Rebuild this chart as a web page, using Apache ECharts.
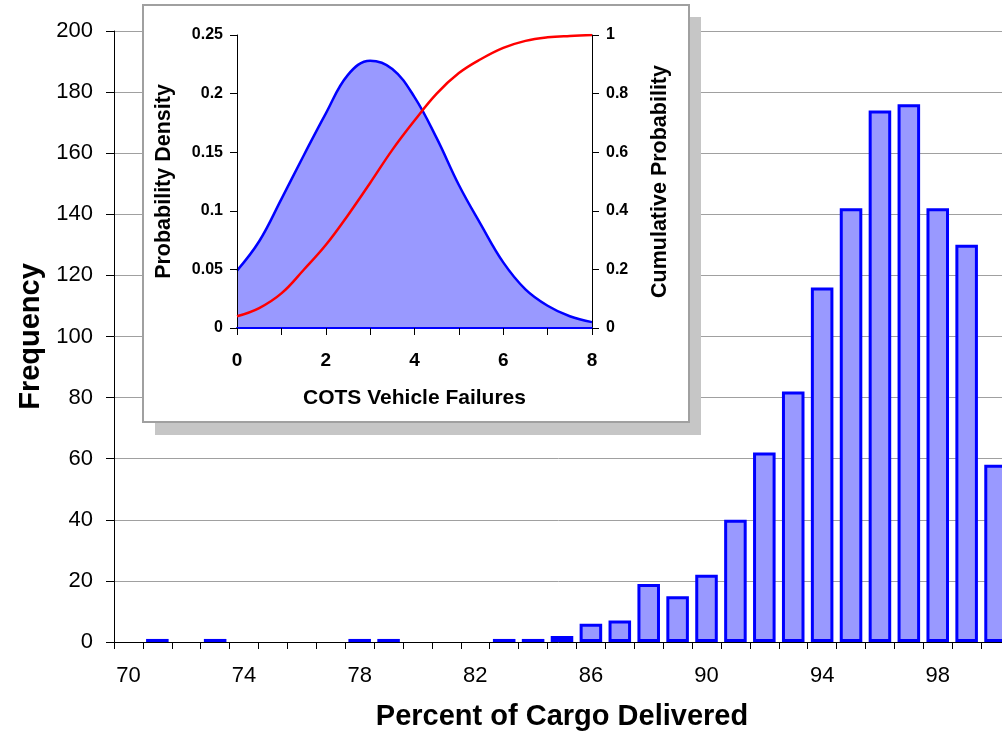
<!DOCTYPE html>
<html><head><meta charset="utf-8">
<script src="https://cdn.jsdelivr.net/npm/echarts@6/dist/echarts.min.js"></script>
<style>html,body{margin:0;padding:0;background:#fff;overflow:hidden}#c{width:1002px;height:740px}</style>
</head><body><div id="c"></div>
<script>
// Main histogram
const cargoPercent = [70,71,72,73,74,75,76,77,78,79,80,81,82,83,84,85,86,87,88,89,90,91,92,93,94,95,96,97,98,99,100];
const frequency = [0,1,0,1,0,0,0,0,1,1,0,0,0,1,1,2,6,7,19,15,22,40,62,82,116,142,174,176,142,130,58];
// Inset: COTS vehicle failures
const failures = [0,0.5,1,1.5,2,2.5,3,3.5,4,4.5,5,5.5,6,6.5,7,7.5,8];
const density = [0.049,0.074,0.110,0.147,0.183,0.216,0.228,0.221,0.197,0.162,0.122,0.088,0.056,0.033,0.019,0.010,0.005];
const cumulative = [0.040,0.068,0.118,0.198,0.283,0.385,0.495,0.608,0.708,0.800,0.870,0.918,0.956,0.980,0.992,0.997,1.0];

const FONT = '"Liberation Sans", Arial, sans-serif';
const chart = echarts.init(document.getElementById('c'), null, {renderer: 'canvas'});

const inset = {left: 237, top: 35, width: 355, height: 293};

const option = {
  animation: false,
  backgroundColor: '#ffffff',
  textStyle: {fontFamily: FONT},
  graphic: [
    {type: 'rect', z: 1, silent: true, shape: {x: 155, y: 17, width: 546, height: 418}, style: {fill: '#c6c6c6'}},
    {type: 'rect', z: 1, silent: true, shape: {x: 143, y: 5, width: 546, height: 417}, style: {fill: '#ffffff', stroke: '#a0a0a0', lineWidth: 2}}
  ],
  grid: [
    {left: 114, top: 31, width: 896, height: 611, outerBoundsMode: 'none', containLabel: false},
    {left: inset.left, top: inset.top, width: inset.width, height: inset.height, outerBoundsMode: 'none', containLabel: false}
  ],
  xAxis: [
    {
      type: 'category', gridIndex: 0, data: cargoPercent, boundaryGap: true, z: 0,
      axisLine: {lineStyle: {color: '#000', width: 1}},
      axisTick: {show: true, interval: 0, length: 7, lineStyle: {color: '#000'}},
      axisLabel: {interval: 3, margin: 23, color: '#000', fontSize: 22, fontFamily: FONT},
      name: 'Percent of Cargo Delivered', nameLocation: 'middle', nameGap: 60,
      nameTextStyle: {fontSize: 29, fontWeight: 'bold', color: '#000', fontFamily: FONT}
    },
    {
      type: 'value', gridIndex: 1, min: 0, max: 8, interval: 1, z: 5,
      axisLine: {onZero: false, lineStyle: {color: '#0000ff', width: 2}},
      axisTick: {show: true, length: 7, lineStyle: {color: '#000'}},
      splitLine: {show: false},
      axisLabel: {margin: 23, color: '#000', fontSize: 19, fontWeight: 'bold', fontFamily: FONT,
        formatter: v => (v % 2 === 0 ? String(v) : '')},
      name: 'COTS Vehicle Failures', nameLocation: 'middle', nameGap: 60,
      nameTextStyle: {fontSize: 21, fontWeight: 'bold', color: '#000', fontFamily: FONT}
    }
  ],
  yAxis: [
    {
      type: 'value', gridIndex: 0, min: 0, max: 200, interval: 20, z: 0,
      axisLine: {show: true, lineStyle: {color: '#000', width: 1}},
      axisTick: {show: true, length: 8, lineStyle: {color: '#000'}},
      splitLine: {show: true, lineStyle: {color: '#a0a0a0', width: 1}},
      axisLabel: {margin: 21, color: '#000', fontSize: 22, fontFamily: FONT},
      name: 'Frequency', nameLocation: 'middle', nameGap: 66, nameRotate: 90,
      nameTextStyle: {fontSize: 29, fontWeight: 'bold', color: '#000', fontFamily: FONT}
    },
    {
      type: 'value', gridIndex: 1, min: 0, max: 0.25, interval: 0.05, z: 5,
      axisLine: {show: true, onZero: false, lineStyle: {color: '#000', width: 1}},
      axisTick: {show: true, length: 7, lineStyle: {color: '#000'}},
      splitLine: {show: false},
      axisLabel: {margin: 14, color: '#000', fontSize: 16, fontWeight: 'bold', fontFamily: FONT},
      name: 'Probability Density', nameLocation: 'middle', nameGap: 62, nameRotate: 90,
      nameTextStyle: {fontSize: 21.5, fontWeight: 'bold', color: '#000', fontFamily: FONT}
    },
    {
      type: 'value', gridIndex: 1, position: 'right', min: 0, max: 1, interval: 0.2, z: 5,
      axisLine: {show: true, onZero: false, lineStyle: {color: '#000', width: 1}},
      axisTick: {show: true, length: 7, lineStyle: {color: '#000'}},
      splitLine: {show: false},
      axisLabel: {margin: 14, color: '#000', fontSize: 16, fontWeight: 'bold', fontFamily: FONT},
      name: 'Cumulative Probability', nameLocation: 'middle', nameGap: 57, nameRotate: 90,
      nameTextStyle: {fontSize: 21.5, fontWeight: 'bold', color: '#000', fontFamily: FONT}
    }
  ],
  series: [
    {
      type: 'bar', xAxisIndex: 0, yAxisIndex: 0, z: 2,
      data: frequency.map(v => (v === 0 ? null : v)),
      barCategoryGap: '22%',
      itemStyle: {color: '#9999ff', borderColor: '#0000ff', borderWidth: 3}
    },
    {
      type: 'line', xAxisIndex: 1, yAxisIndex: 1, z: 4,
      data: failures.map((x, i) => [x, density[i]]),
      smooth: 0.4, symbol: 'none',
      lineStyle: {color: '#0000ff', width: 2.5},
      areaStyle: {color: '#9999ff', opacity: 1}
    },
    {
      type: 'line', xAxisIndex: 1, yAxisIndex: 2, z: 6,
      data: failures.map((x, i) => [x, cumulative[i]]),
      smooth: 0.4, symbol: 'none',
      lineStyle: {color: '#ff0000', width: 2.5}
    }
  ]
};
chart.setOption(option);
</script>
</body></html>
